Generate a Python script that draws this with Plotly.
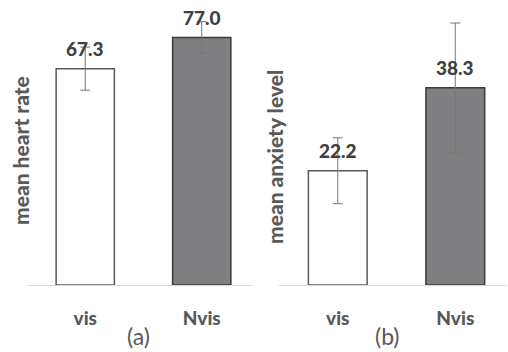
import plotly.graph_objects as go

# Group labels and summary statistics for both panels
groups = ["vis", "Nvis"]
heart_rate_mean = [67.3, 77.0]
heart_rate_err = [6.7, 4.9]
anxiety_mean = [22.2, 38.3]
anxiety_err = [6.4, 12.6]
panel_tags = ["(a)", "(b)"]
y_titles = ["mean heart rate", "mean anxiety level"]

W, H = 508, 352
FONT = "Lato, 'Open Sans', sans-serif"
TEXT_DARK = "#404040"
TEXT_GRAY = "#595959"
fills = ["#ffffff", "#7f7f82"]
edges = ["#595959", "#3a3a3a"]

fig = go.Figure()

panels = [
    ("x", "y", heart_rate_mean, heart_rate_err),
    ("x2", "y2", anxiety_mean, anxiety_err),
]
for xa, ya, means, errs in panels:
    fig.add_trace(go.Bar(
        x=groups, y=means, xaxis=xa, yaxis=ya, width=0.5,
        marker=dict(color=fills, line=dict(color=edges, width=1.5)),
        error_y=dict(type="data", array=errs, visible=True,
                     color="#777777", thickness=1, width=5),
        showlegend=False, hoverinfo="skip",
    ))
    # value labels floating above each bar
    for g, v in zip(groups, means):
        fig.add_annotation(
            x=g, y=v, xref=xa, yref=ya, text=f"{v:.1f}", showarrow=False,
            xanchor="center", yanchor="middle", yshift=20,
            font=dict(family=FONT, size=19, color=TEXT_DARK, weight=900),
        )

x_common = dict(
    type="category", range=[-0.5, 1.44], showgrid=False, zeroline=False,
    showline=True, linecolor="#d9d9d9", linewidth=1, ticks="",
    ticklabelstandoff=16,
    tickfont=dict(family=FONT, size=19, color=TEXT_GRAY, weight=900),
    fixedrange=True,
)
y_common = dict(showgrid=False, zeroline=False, showline=False,
                showticklabels=False, ticks="", fixedrange=True)

y_dom = [67 / H, 347 / H]
fig.update_layout(
    width=W, height=H,
    margin=dict(l=0, r=0, t=0, b=0),
    paper_bgcolor="white", plot_bgcolor="white",
    xaxis=dict(domain=[27 / W, 253 / W], anchor="y", **x_common),
    xaxis2=dict(domain=[279 / W, 507 / W], anchor="y2", **x_common),
    yaxis=dict(domain=y_dom, range=[0, 87.1], anchor="x", **y_common),
    yaxis2=dict(domain=y_dom, range=[0, 54.4], anchor="x2", **y_common),
)

# rotated axis titles
for x_px, y_px, title in [(20, 151, y_titles[0]), (274, 157, y_titles[1])]:
    fig.add_annotation(
        x=x_px / W, y=1 - y_px / H, xref="paper", yref="paper",
        text=title, textangle=-90, showarrow=False,
        xanchor="center", yanchor="middle",
        font=dict(family=FONT, size=21, color=TEXT_GRAY, weight=900),
    )

# panel tags under each chart
for x_px, tag in [(138, panel_tags[0]), (387, panel_tags[1])]:
    fig.add_annotation(
        x=x_px / W, y=1 - 336 / H, xref="paper", yref="paper",
        text=tag, showarrow=False, xanchor="center", yanchor="middle",
        font=dict(family=FONT, size=23, color=TEXT_GRAY),
    )

fig.write_html("out.html")
